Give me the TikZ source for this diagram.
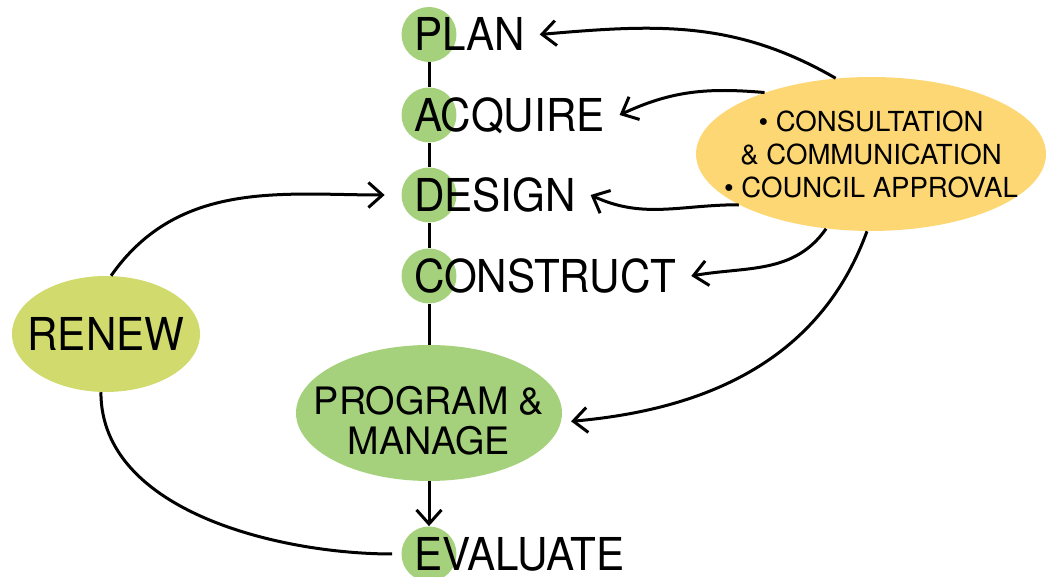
\documentclass[tikz,border=0pt]{standalone}
\usepackage{fontspec}
\setmainfont{TeX Gyre Heros}
\newfontfamily\stagefont{TeX Gyre Heros}[FakeStretch=0.93]
\usepackage{tikz}
\usetikzlibrary{positioning,arrows.meta,shapes.geometric}
\definecolor{stagegreen}{HTML}{A5D17D}
\definecolor{renewgreen}{HTML}{D1DA6D}
\definecolor{talkyellow}{HTML}{FDD774}
\tikzset{stage/.style = {circle,fill=stagegreen,minimum size=1.1cm,inner sep=0pt},
         stagelbl/.style = {anchor=west,inner sep=0pt,outer xsep=0.3cm,outer ysep=0pt,
                            text height=0.65cm,text depth=0pt,font=\stagefont\fontsize{25.8}{30}\selectfont},
         blob/.style = {ellipse,inner xsep=-1cm,inner ysep=0pt,align=center},
         link/.style = {line width=0.06cm},
         arr/.style = {link,-{Straight Barb[length=0.28cm,width=0.5cm]}}}

\begin{document}
\begin{tikzpicture}[x=0.02cm,y=0.02cm]
    \useasboundingbox (0,0) rectangle (1049,577);
    % stages
    \node [stage] (plan) at (429,542.5) {};
    \node [stage] (acquire) at (429,462) {};
    \node [stage] (design) at (429,382) {};
    \node [stage] (construct) at (429,301) {};
    \node [stage] (evaluate) at (429,23) {};
    \node [stagelbl] (planlbl) at ([xshift=-0.6cm]plan.center) {PLAN};
    \node [stagelbl] (acquirelbl) at ([xshift=-0.6cm]acquire.center) {ACQUIRE};
    \node [stagelbl] (designlbl) at ([xshift=-0.6cm]design.center) {DESIGN};
    \node [stagelbl] (constructlbl) at ([xshift=-0.6cm]construct.center) {CONSTRUCT};
    \node [stagelbl] (evaluatelbl) at ([xshift=-0.6cm]evaluate.center) {EVALUATE};
    \node [blob,fill=stagegreen,minimum width=5.32cm,minimum height=2.72cm,
           font=\fontsize{21.5}{23}\selectfont] (program) at (429,164) {\rule{0pt}{0.87cm}PROGRAM \&\\MANAGE};
    \node [blob,fill=renewgreen,minimum width=3.76cm,minimum height=2.32cm,
           font=\stagefont\fontsize{25.8}{30}\selectfont] (renew) at (106,243) {RENEW};
    \node [blob,fill=talkyellow,minimum width=7cm,minimum height=3.08cm,
           font=\fontsize{15.7}{18.8}\selectfont] (talk) at (871,423)
          {\textbullet\ CONSULTATION\\\& COMMUNICATION\\\textbullet\ COUNCIL APPROVAL};

    \draw [link] (plan) -- (acquire) -- (design) -- (construct) -- (program);
    \draw [arr] (program) -- (evaluate);
    \draw [arr] (talk.115) to[out=150,in=5] (planlbl.east);
    \draw [arr] (talk.150) to[out=175,in=25] (acquirelbl.east);
    \draw [arr] (talk.201) to[out=180,in=-25] (designlbl.east);
    \draw [arr] (talk.239) to[out=235,in=10] (constructlbl.east);
    \draw [arr,shorten >=0.2cm] (talk.267) to[out=250,in=5] (program.-4);
    \draw [arr,shorten >=0.33cm] (renew.85) to[out=55,in=180] (design.west);
    \draw [link,shorten <=0.18cm] (evaluate.west) to[out=180,in=-90,looseness=0.9] (renew.265);
\end{tikzpicture}
\end{document}
